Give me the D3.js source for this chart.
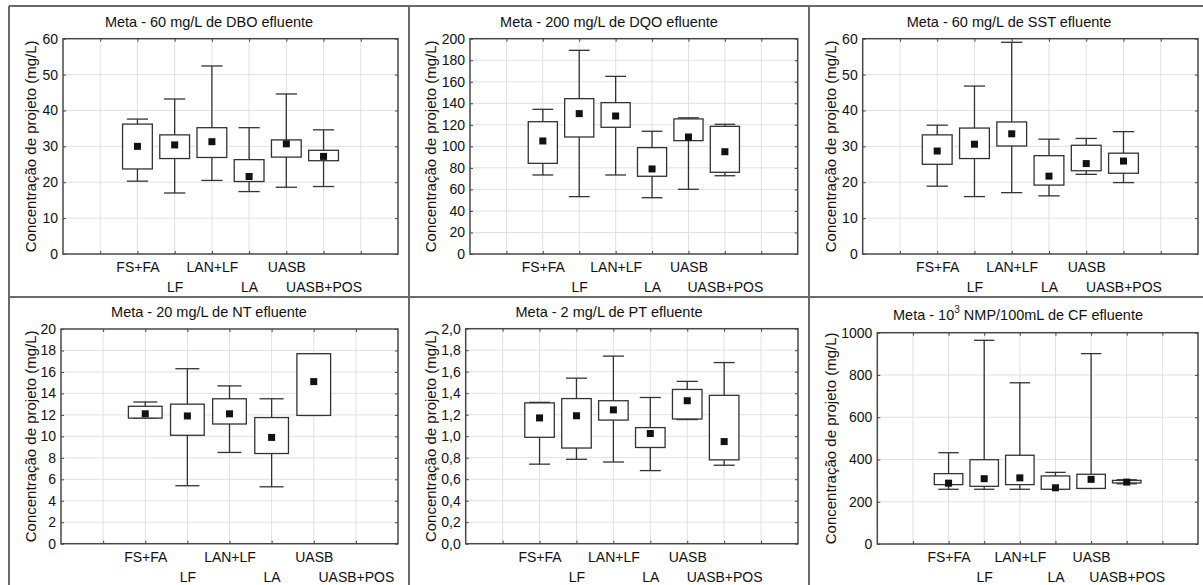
<!DOCTYPE html>
<html>
<head>
<meta charset="utf-8">
<script src="https://cdn.jsdelivr.net/npm/d3@7"></script>
<style>
  body { margin: 0; background: #fff; }
  text { font-family: "Liberation Sans", Arial, sans-serif; fill: #111; }
</style>
</head>
<body>
<div id="chart"></div>
<script>
// categories along the x axis (alternating on two rows)
var categories = ["FS+FA", "LF", "LAN+LF", "LA", "UASB", "UASB+POS"];

// each row: [whisker low, box bottom, mean, box top, whisker high]
var dbo = [[20.3, 23.7, 30.0, 36.2, 37.6], [17.0, 26.6, 30.4, 33.2, 43.2], [20.5, 26.9, 31.3, 35.2, 52.4],
           [17.4, 20.2, 21.6, 26.3, 35.2], [18.6, 27.0, 30.7, 31.8, 44.6], [18.8, 26.0, 27.2, 28.9, 34.6]];
var dqo = [[73.4, 84.2, 105, 122.9, 134.4], [53.3, 108.7, 130.4, 144.3, 189.2], [73.4, 117.7, 128.2, 140.6, 165],
           [52.3, 72.2, 79, 98.8, 114], [60.1, 105.3, 108.7, 125.5, 126.5], [72.7, 75.9, 95, 118.6, 120.5]];
var sst = [[18.9, 25.0, 28.7, 33.2, 35.9], [16.0, 26.6, 30.6, 35.1, 46.8], [17.1, 30.1, 33.5, 36.8, 59.0],
           [16.2, 19.2, 21.7, 27.4, 32.0], [22.2, 23.2, 25.2, 30.3, 32.2], [19.9, 22.5, 25.9, 28.1, 34.1]];
var nt  = [[11.7, 11.7, 12.1, 12.8, 13.2], [5.4, 10.1, 11.9, 13.0, 16.3], [8.5, 11.15, 12.1, 13.5, 14.7],
           [5.3, 8.4, 9.9, 11.75, 13.5], [11.95, 11.95, 15.1, 17.7, 17.7], null];
var pt  = [[0.74, 0.99, 1.17, 1.31, 1.315], [0.785, 0.89, 1.19, 1.35, 1.54], [0.76, 1.15, 1.245, 1.33, 1.745],
           [0.68, 0.895, 1.025, 1.08, 1.36], [1.155, 1.16, 1.33, 1.435, 1.51], [0.73, 0.78, 0.95, 1.38, 1.685]];
var cf  = [[259, 281, 288, 333, 432], [259, 273, 309, 399, 964], [259, 281, 313, 420, 763],
           [259, 259, 266, 322, 339], [263, 263, 306, 330, 901], [285, 289, 293, 301, 304]];

var titles = ["Meta - 60 mg/L de DBO efluente", "Meta - 200 mg/L de DQO efluente", "Meta - 60 mg/L de SST efluente",
              "Meta - 20 mg/L de NT efluente", "Meta - 2 mg/L de PT efluente", "Meta - 10^3 NMP/100mL de CF efluente"];
var yMax = [60, 200, 60, 20, 2, 1000];
var yStep = [10, 20, 10, 2, 0.2, 200];
var slots = [9, 9, 9, 8, 9, 9];
var yLabel = "Concentração de projeto (mg/L)";

var width = 1203, height = 585;

// panel frame + plot area
var layout = [
  {px: 9,   py: 6,   l: 63,    t: 38.7,  r: 398,  b: 254,   ty: 27,  tx: 200},
  {px: 409, py: 6,   l: 470,   t: 38.7,  r: 797.7, b: 254,  ty: 27,  tx: 200},
  {px: 809, py: 6,   l: 862.7, t: 38.7,  r: 1198, b: 254,   ty: 27,  tx: 200},
  {px: 9,   py: 297, l: 61,    t: 329,   r: 398,  b: 543.7, ty: 317, tx: 200},
  {px: 409, py: 297, l: 465.7, t: 328.7, r: 798,  b: 543.7, ty: 317, tx: 200},
  {px: 809, py: 297, l: 877.3, t: 332.7, r: 1198, b: 544,   ty: 320, tx: 209}
];
var datasets = [dbo, dqo, sst, nt, pt, cf];

var svg = d3.select("#chart").append("svg")
            .attr("width", width)
            .attr("height", height);

svg.append("rect").attr("width", width).attr("height", height).attr("fill", "#fff");

datasets.forEach(function(data, i) {
  var lay = layout[i];
  var g = svg.append("g");

  var x = d3.scaleLinear().domain([0, slots[i]]).range([lay.l, lay.r]);
  var y = d3.scaleLinear().domain([0, yMax[i]]).range([lay.b, lay.t]);
  var ticks = d3.range(0, yMax[i] + yStep[i] / 2, yStep[i]);
  var xticks = d3.range(1, slots[i]);
  var slotW = x(1) - x(0);

  // grid
  g.selectAll("line.hg").data(ticks.slice(1, -1)).enter().append("line")
   .attr("x1", lay.l).attr("x2", lay.r)
   .attr("y1", function(d) { return y(d); }).attr("y2", function(d) { return y(d); })
   .attr("stroke", "#e1e1e1").attr("stroke-width", 1);
  g.selectAll("line.vg").data(xticks).enter().append("line")
   .attr("x1", function(d) { return x(d); }).attr("x2", function(d) { return x(d); })
   .attr("y1", lay.t).attr("y2", lay.b)
   .attr("stroke", "#e1e1e1").attr("stroke-width", 1);

  // y axis
  var fmt = i == 4 ? function(d) { return d3.format(".1f")(d).replace(".", ","); } : d3.format("d");
  var yAxis = g.append("g").attr("transform", "translate(" + lay.l + ",0)")
               .call(d3.axisLeft(y).tickValues(ticks).tickSize(-3).tickPadding(5).tickFormat(fmt));
  yAxis.select(".domain").remove();
  yAxis.selectAll("text").style("font-size", "14px").style("font-family", "Liberation Sans, Arial, sans-serif").attr("fill", "#111");
  yAxis.selectAll("line").attr("stroke", "#444");

  // right side ticks
  var yAxisR = g.append("g").attr("transform", "translate(" + lay.r + ",0)")
                .call(d3.axisRight(y).tickValues(ticks).tickSize(-3).tickFormat(""));
  yAxisR.select(".domain").remove();
  yAxisR.selectAll("line").attr("stroke", "#444");

  // x axis with staggered labels
  var xAxis = g.append("g").attr("transform", "translate(0," + lay.b + ")")
               .call(d3.axisBottom(x).tickValues(xticks).tickSize(-3).tickPadding(0)
                     .tickFormat(function(d) { return categories[d - 2] || ""; }));
  xAxis.select(".domain").remove();
  xAxis.selectAll("line").attr("stroke", "#444");
  xAxis.selectAll("text")
       .style("font-size", "14px").style("font-family", "Liberation Sans, Arial, sans-serif").attr("fill", "#111")
       .attr("dy", null)
       .attr("y", function(d) { return (d % 2 == 0) ? 18 : 38; });

  var xAxisT = g.append("g").attr("transform", "translate(0," + lay.t + ")")
                .call(d3.axisTop(x).tickValues(xticks).tickSize(-3).tickFormat(""));
  xAxisT.select(".domain").remove();
  xAxisT.selectAll("line").attr("stroke", "#444");

  // plot frame
  g.append("rect")
   .attr("x", lay.l).attr("y", lay.t)
   .attr("width", lay.r - lay.l).attr("height", lay.b - lay.t)
   .attr("fill", "none").attr("stroke", "#484848").attr("stroke-width", 1.5);

  // boxes
  var boxW = slotW * 0.8, capW = slotW * 0.57;
  var rows = data.map(function(d, j) { return {v: d, pos: j + 2}; }).filter(function(d) { return d.v; });
  var box = g.selectAll("g.box").data(rows).enter().append("g").attr("class", "box");

  box.append("line")
     .attr("x1", function(d) { return x(d.pos); }).attr("x2", function(d) { return x(d.pos); })
     .attr("y1", function(d) { return y(d.v[0]); }).attr("y2", function(d) { return y(d.v[4]); })
     .attr("stroke", "#333").attr("stroke-width", 1.3);
  box.append("line")
     .attr("x1", function(d) { return x(d.pos) - capW / 2; }).attr("x2", function(d) { return x(d.pos) + capW / 2; })
     .attr("y1", function(d) { return y(d.v[4]); }).attr("y2", function(d) { return y(d.v[4]); })
     .attr("stroke", "#333").attr("stroke-width", 1.3);
  box.append("line")
     .attr("x1", function(d) { return x(d.pos) - capW / 2; }).attr("x2", function(d) { return x(d.pos) + capW / 2; })
     .attr("y1", function(d) { return y(d.v[0]); }).attr("y2", function(d) { return y(d.v[0]); })
     .attr("stroke", "#333").attr("stroke-width", 1.3);
  box.append("rect")
     .attr("x", function(d) { return x(d.pos) - boxW / 2; })
     .attr("y", function(d) { return y(d.v[3]); })
     .attr("width", boxW)
     .attr("height", function(d) { return Math.max(1, y(d.v[1]) - y(d.v[3])); })
     .attr("fill", "#fff").attr("stroke", "#333").attr("stroke-width", 1.3);
  box.append("rect")
     .attr("x", function(d) { return x(d.pos) - 3.5; })
     .attr("y", function(d) { return y(d.v[2]) - 3.5; })
     .attr("width", 7).attr("height", 7)
     .attr("fill", "#111");

  // title
  var cx = lay.px + lay.tx;
  var parts = titles[i].split("^");
  var title = g.append("text").attr("x", cx).attr("y", lay.ty)
               .attr("text-anchor", "middle").style("font-size", "14.5px");
  if (parts.length == 1) {
    title.text(titles[i]);
  } else {
    var sup = parts[1].charAt(0);
    title.append("tspan").text(parts[0]);
    title.append("tspan").attr("dy", -7).style("font-size", "10px").text(sup);
    title.append("tspan").attr("dy", 7).text(parts[1].slice(1));
  }

  // y label
  g.append("text")
   .attr("transform", "translate(" + (lay.px + 21) + "," + ((lay.t + lay.b) / 2) + ") rotate(-90)")
   .attr("text-anchor", "middle")
   .attr("dominant-baseline", "central")
   .style("font-size", "15px")
   .text(yLabel);
});

// panel separators and outer frame
var sep = svg.append("g").attr("stroke", "#6a6a6a").attr("stroke-width", 2);
sep.append("line").attr("x1", 9).attr("x2", width).attr("y1", 6).attr("y2", 6);
sep.append("line").attr("x1", 9).attr("x2", width).attr("y1", 297).attr("y2", 297);
[9, 409, 809].forEach(function(xx) {
  sep.append("line").attr("x1", xx).attr("x2", xx).attr("y1", 6).attr("y2", height);
});
</script>
</body>
</html>
